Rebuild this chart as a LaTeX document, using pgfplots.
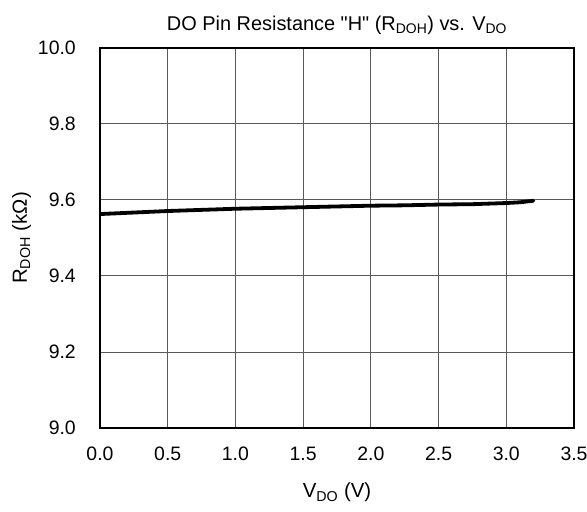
\documentclass[border=0pt]{standalone}
\usepackage{pgfplots}
\pgfplotsset{compat=1.18}
\usepackage{fontspec}
\setmainfont{Liberation Sans}[Ligatures=TeXOff]
\begin{document}
\begin{tikzpicture}
\path[use as bounding box] (-100bp,-84bp) rectangle (487bp,428bp);
\begin{axis}[
  at={(0,0)}, anchor=south west,
  scale only axis, width=474bp, height=380bp,
  xmin=0, xmax=3.5, ymin=9.0, ymax=10.0,
  xtick={0,0.5,...,3.5}, ytick={9.0,9.2,...,10.0},
  grid=major,
  major grid style={black!65, line width=1bp},
  axis line style={black, line width=2.5bp},
  tick style={draw=none},
  /pgf/number format/assume math mode=true,
  /pgf/number format/fixed,
  /pgf/number format/fixed zerofill,
  /pgf/number format/precision=1,
  tick label style={font=\fontsize{19.5}{22}\selectfont, inner sep=0pt},
  yticklabel style={anchor=east, xshift=-24bp},
  xticklabel style={anchor=north, yshift=-19bp},
  title={DO Pin Resistance "H" (R\textsubscript{DOH}) vs. V\textsubscript{DO}},
  every axis title/.style={at={(axis description cs:0.5,1.047)}, anchor=base, font=\fontsize{20}{23}\selectfont},
  xlabel={V\textsubscript{DO} (V)},
  ylabel={R\textsubscript{DOH} (kΩ)},
  every axis x label/.style={at={(axis description cs:0.5,-0.184)}, anchor=base, font=\fontsize{20.5}{23}\selectfont},
  every axis y label/.style={at={(axis description cs:-0.154,0.5)}, rotate=90, anchor=base, font=\fontsize{20.5}{23}\selectfont},
]
\addplot[black, line width=3.8bp, line cap=round] coordinates {
(0.0,9.563) (0.25,9.567) (0.5,9.571) (0.75,9.574) (1.0,9.577) (1.25,9.579) (1.5,9.581)
(1.75,9.583) (2.0,9.585) (2.25,9.586) (2.5,9.588) (2.75,9.589) (3.0,9.592) (3.1,9.594) (3.2,9.598)
};
\end{axis}
\end{tikzpicture}
\end{document}
